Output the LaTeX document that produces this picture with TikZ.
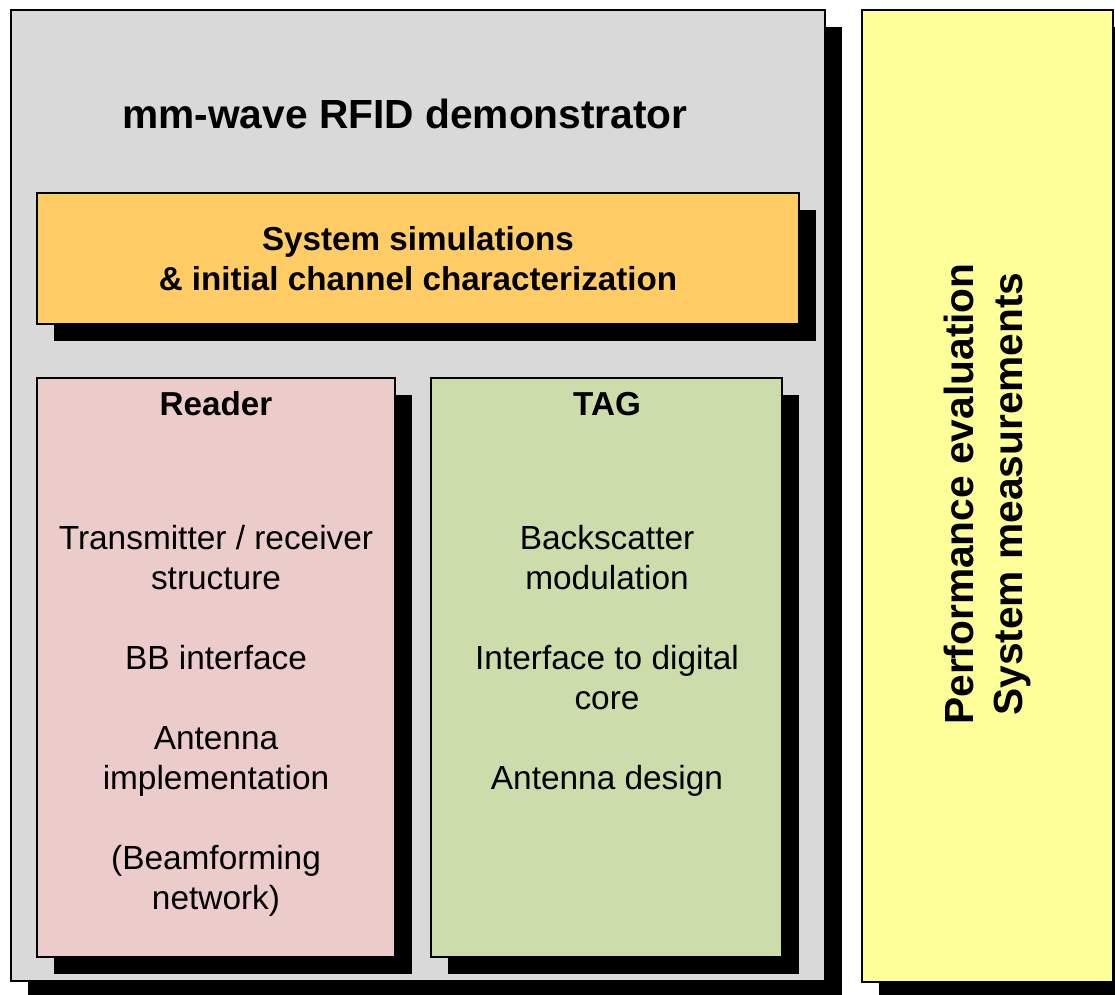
\documentclass[tikz,border=0pt]{standalone}
\usepackage{fontspec}
\setmainfont{Liberation Sans}
\usepackage{xcolor}
\usepackage{tikz}
\usetikzlibrary{shadows}
\usetikzlibrary{positioning}

\definecolor{boxgray}{HTML}{D9D9D9}
\definecolor{boxorange}{HTML}{FFCC66}
\definecolor{boxpink}{HTML}{ECCCCA}
\definecolor{boxgreen}{HTML}{CCDCAA}
\definecolor{boxyellow}{HTML}{FFFF99}

\begin{document}
\begin{tikzpicture}[x=1pt, y=-1pt,
        blk/.style={draw, line width=1.5pt, inner sep=0pt,
            drop shadow={shadow xshift=17pt, shadow yshift=-17pt, fill=black, opacity=1}},
        big/.style={font=\bfseries\fontsize{40.7}{49}\selectfont, align=center},
        head/.style={font=\bfseries\fontsize{33.2}{40}\selectfont, align=center},
        body/.style={font=\fontsize{33.4}{40}\selectfont, align=center}]
        \useasboundingbox (0,0) rectangle (1115,994);
        \clip (0,0) rectangle (1115,994);

        % boxes
        \node[blk, fill=boxgray, minimum width=814pt, minimum height=971pt] (demo) at (418,495.5) {};
        \node[blk, fill=boxyellow, minimum width=251pt, minimum height=972pt] (eval) at (987.5,496) {};
        \node[blk, fill=boxorange, minimum width=762pt, minimum height=131pt] (sim) at (418,258.5) {};
        \node[blk, fill=boxpink, minimum width=358pt, minimum height=579pt] (reader) at (216,667.5) {};
        \node[blk, fill=boxgreen, minimum width=351pt, minimum height=579pt] (tag) at (606.5,667.5) {};

        % texts
        \node[big] (demotitle) at (405,114) {mm-wave RFID demonstrator};
        \node[head] (simtext) at (418,259) {System simulations\\ \& initial channel characterization};
        \node[head] (readertitle) at (216,404) {Reader};
        \node[head] (tagtitle) at (607,404) {TAG};
        \node[body] (readertext) at (216,721) {Transmitter / receiver\\structure\\[40pt]BB interface\\[40pt]Antenna\\implementation\\[40pt](Beamforming\\network)};
        \node[body] (tagtext) at (607,661) {Backscatter\\modulation\\[40pt]Interface to digital\\core\\[40pt]Antenna design};
        \node[big, rotate=90] (evaltext) at (987.5,494) {Performance evaluation\\System measurements};
    \end{tikzpicture}
\end{document}
